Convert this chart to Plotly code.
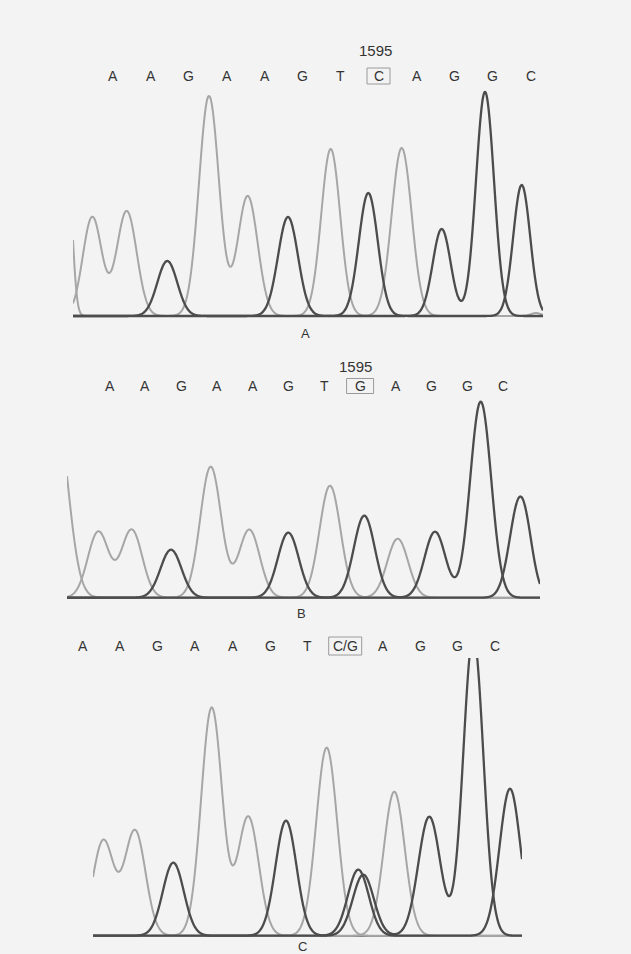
import numpy as np
import plotly.graph_objects as go

W, H = 631, 954

# ---------------- data: base calls ----------------
bases_A = ["A", "A", "G", "A", "A", "G", "T", "C", "A", "G", "G", "C"]
bases_B = ["A", "A", "G", "A", "A", "G", "T", "G", "A", "G", "G", "C"]
bases_C = ["A", "A", "G", "A", "A", "G", "T", "C/G", "A", "G", "G", "C"]
variant_index = 7
variant_position = "1595"
panel_labels = ["A", "B", "C"]

# ---------------- data: peaks (scan position, signal height, peak width) ----------------
# Panel A
pA_adenine = [(92.3, 99, 9.5), (126.7, 105, 10), (209, 220, 10), (247.7, 120, 10), (401.7, 168, 10), (536, 3, 5)]
pA_thymine = [(68, 141, 4.5), (330.7, 167, 9.5)]
pA_guanine = [(167.3, 55, 10), (288, 99, 10), (441.7, 87, 9), (485, 224, 9)]
pA_cytosine = [(368.3, 123, 9.5), (521.7, 131, 8.5)]

# Panel B
pB_adenine = [(98.3, 66, 10.5), (131.7, 68, 10.5), (210.7, 131, 10.5), (249.3, 68, 10.5), (397.7, 59, 10.5)]
pB_thymine = [(56, 185, 12), (330, 112, 10.5)]
pB_guanine = [(171, 48, 10.5), (288.3, 65, 10.5), (364.3, 82, 10.5), (435, 66, 10.5), (480.7, 196, 10.5)]
pB_cytosine = [(520, 100, 10), (528, 4, 5)]

# Panel C
pC_adenine = [(103.3, 95, 10.5), (135, 105, 10.5), (211.7, 228, 10.5), (248.3, 119, 10.5), (394.3, 144, 10.5)]
pC_thymine = [(326.7, 188, 10.5)]
pC_guanine = [(173.3, 73, 10.5), (286, 115, 10.5), (363.3, 61, 10.5), (429.3, 119, 11), (473.3, 300, 10)]
pC_cytosine = [(358.3, 66, 10.5), (510, 147, 10.5)]

# ---------------- layout geometry (pixels) ----------------
panels = [
    dict(peaks=[pA_adenine, pA_thymine, pA_guanine, pA_cytosine], bases=bases_A,
         x0=73, x1=543, base=316, top=86, let_y=76, let_x0=112.5, let_dx=38.0,
         box=(23, 16), num=(375, 51), lab=(305, 333)),
    dict(peaks=[pB_adenine, pB_thymine, pB_guanine, pB_cytosine], bases=bases_B,
         x0=67, x1=540, base=597.7, top=396, let_y=386, let_x0=109.5, let_dx=35.8,
         box=(27, 15), num=(355, 366), lab=(301.7, 613)),
    dict(peaks=[pC_adenine, pC_thymine, pC_guanine, pC_cytosine], bases=bases_C,
         x0=93, x1=522, base=935.7, top=658, let_y=646, let_x0=82.7, let_dx=37.5,
         box=(33, 18), num=None, lab=(302.3, 946)),
]

LIGHT = "#a6a6a6"
DARK = "#4c4c4c"
channel_style = [(LIGHT, 2.0), (LIGHT, 2.0), (DARK, 2.3), (DARK, 2.3)]
channel_names = ["A", "T", "G", "C"]
TEXT = "#333333"
PAD = 3


def px(x):
    return x / W


def py(y):
    return 1 - y / H


fig = go.Figure()
annotations = []
shapes = []

for i, p in enumerate(panels):
    sfx = "" if i == 0 else str(i + 1)
    xs = np.arange(p["x0"], p["x1"] + 0.25, 0.5)
    for ch, (peaks, (col, lw)) in enumerate(zip(p["peaks"], channel_style)):
        ys = np.zeros_like(xs)
        for c, h, s in peaks:
            ys = ys + h * np.exp(-((xs - c) ** 2) / (2 * s * s))
        fig.add_trace(go.Scatter(x=xs, y=ys, mode="lines", name=channel_names[ch],
                                 line=dict(color=col, width=lw, shape="spline"),
                                 xaxis="x" + sfx, yaxis="y" + sfx, showlegend=False,
                                 hoverinfo="skip"))
    fig.layout["xaxis" + sfx] = dict(domain=[px(p["x0"]), px(p["x1"])], range=[p["x0"], p["x1"]],
                                     showgrid=False, zeroline=False, showticklabels=False,
                                     showline=False, ticks="", anchor="y" + sfx, fixedrange=True)
    fig.layout["yaxis" + sfx] = dict(domain=[py(p["base"] + PAD), py(p["top"])],
                                     range=[-PAD, p["base"] - p["top"]],
                                     showgrid=False, zeroline=True, zerolinecolor="#858585",
                                     zerolinewidth=1.6, showticklabels=False, showline=False,
                                     ticks="", anchor="x" + sfx, fixedrange=True)
    # base calls
    for k, b in enumerate(p["bases"]):
        bx = p["let_x0"] + k * p["let_dx"]
        annotations.append(dict(x=px(bx), y=py(p["let_y"]), xref="paper", yref="paper",
                                text=b, showarrow=False, xanchor="center", yanchor="middle",
                                font=dict(family="Liberation Sans, Arial", size=14, color=TEXT)))
        if k == variant_index:
            bw, bh = p["box"]
            shapes.append(dict(type="rect", xref="paper", yref="paper",
                               x0=px(bx - bw / 2), x1=px(bx + bw / 2),
                               y0=py(p["let_y"] + bh / 2), y1=py(p["let_y"] - bh / 2),
                               line=dict(color="#9a9a9a", width=1)))
    if p["num"] is not None:
        annotations.append(dict(x=px(p["num"][0]), y=py(p["num"][1]), xref="paper", yref="paper",
                                text=variant_position, showarrow=False, xanchor="center",
                                yanchor="middle",
                                font=dict(family="Liberation Sans, Arial", size=15, color=TEXT)))
    annotations.append(dict(x=px(p["lab"][0]), y=py(p["lab"][1]), xref="paper", yref="paper",
                            text=panel_labels[i], showarrow=False, xanchor="center", yanchor="middle",
                            font=dict(family="Liberation Sans, Arial", size=13, color=TEXT)))

fig.update_layout(width=W, height=H, margin=dict(l=0, r=0, t=0, b=0),
                  paper_bgcolor="#f3f3f3", plot_bgcolor="rgba(0,0,0,0)",
                  annotations=annotations, shapes=shapes, showlegend=False)

fig.write_html("out.html", config={"displayModeBar": False},
               post_script="document.body.style.margin='0';document.body.style.padding='0';"
                           "document.body.style.background='#f3f3f3';")
